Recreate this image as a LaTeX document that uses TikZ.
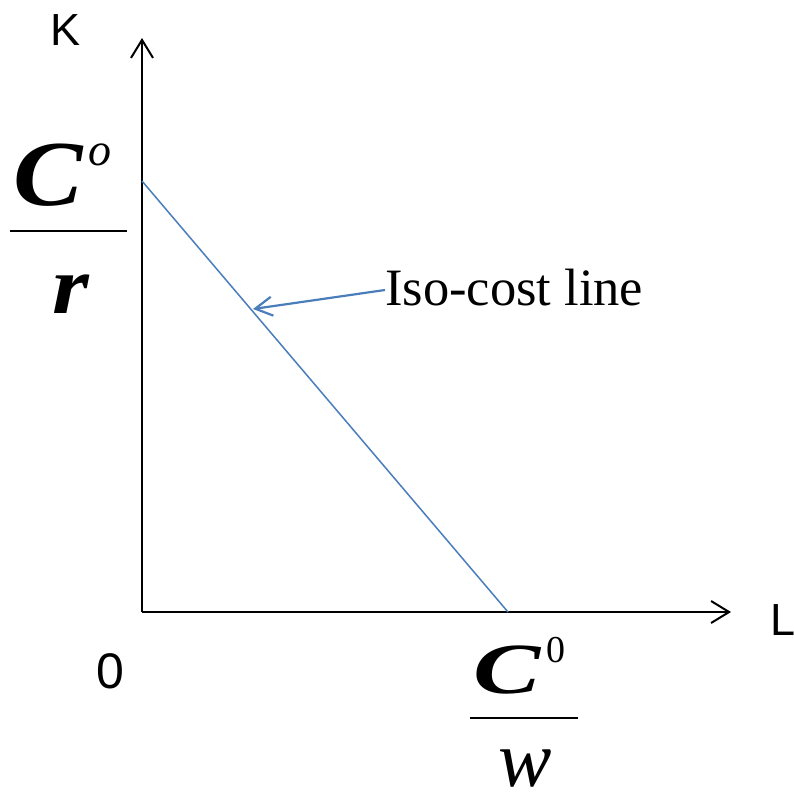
\documentclass[tikz,border=0pt]{standalone}
\usepackage{fontspec}
\setmainfont{Liberation Serif}
\setsansfont{Liberation Sans}
\usetikzlibrary{arrows.meta, positioning}
\definecolor{isoblue}{RGB}{74,126,187}

\begin{document}
\begin{tikzpicture}[x=1pt,y=-1pt,
        axis/.style={black,line width=2pt,-{Straight Barb[length=18pt,width=22pt,line width=2pt]}},
        big/.style={inner sep=0pt,anchor=base,font=\fontsize{#1}{#1}\selectfont\bfseries\itshape},
        sup/.style={inner sep=0pt,anchor=base west,font=\fontsize{#1}{#1}\selectfont},
        axlabel/.style={inner sep=0pt,anchor=base west,font=\fontsize{45}{45}\selectfont\sffamily}]
        \useasboundingbox (0,0) rectangle (794,793);
        \coordinate (o) at (142,612);
        \coordinate (ktop) at (142,38);
        \coordinate (lend) at (731,612);
        \coordinate (kcut) at (142,181);
        \coordinate (lcut) at (508,612);
        % axes
        \draw[axis] (o) -- (ktop);
        \draw[axis] (o) -- (lend);
        \node[axlabel] (k) at (50,45) {K};
        \node[axlabel] (l) at (770,635) {L};
        \node[axlabel,font=\fontsize{50}{50}\selectfont\sffamily] (zero) at (96,688) {0};
        % iso-cost line
        \draw[isoblue,line width=1.5pt] (kcut) -- (lcut);
        \node[inner sep=0pt,anchor=base west,font=\fontsize{52.5}{52.5}\selectfont] (iso) at (385,305) {Iso-cost line};
        \coordinate (tip) at (253,309);
        \draw[isoblue,line width=2.2pt,-{Straight Barb[length=17pt,width=19pt,line width=2.2pt]}] (iso.west |- 0,290) -- (tip);
        % C^o / r
        \node[big=93] (cr) at (48,205) {\scalebox{1.12}[1]{C}};
        \node[sup=46,font=\fontsize{46}{46}\selectfont\itshape] (cro) at (88,165) {o};
        \coordinate (barl) at (10,231);
        \coordinate (barr) at (127,231);
        \draw[line width=2pt] (barl) -- (barr);
        \node[big=82] (r) at (71,313) {\scalebox{1.15}[1]{r}};
        % C^0 / w
        \node[big=72] (cw) at (507,693) {\scalebox{1.4}[1]{C}};
        \node[sup=38] (cwo) at (546,662) {0};
        \coordinate (barwl) at (470,718);
        \coordinate (barwr) at (578,718);
        \draw[line width=2pt] (barwl) -- (barwr);
        \node[inner sep=0pt,anchor=base,font=\fontsize{80}{80}\selectfont\itshape] (w) at (525,786) {w};
\end{tikzpicture}
\end{document}
